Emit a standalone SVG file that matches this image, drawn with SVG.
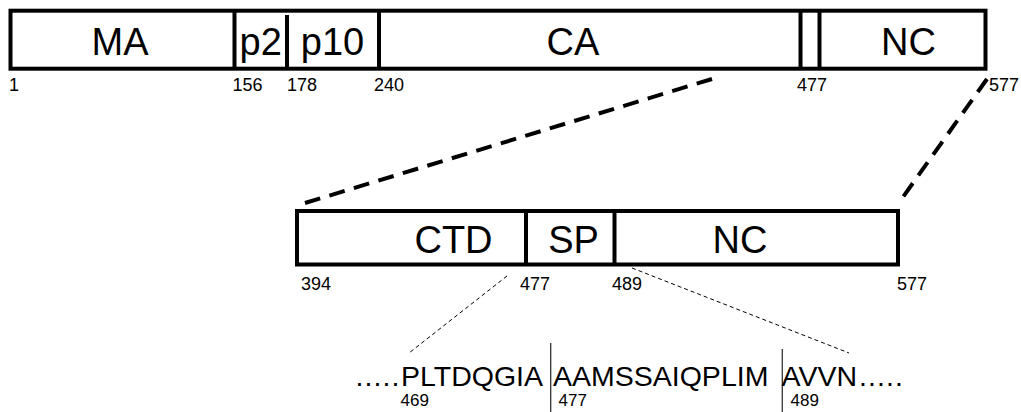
<svg xmlns="http://www.w3.org/2000/svg" width="1021" height="412" viewBox="0 0 1021 412">
<style>
.box{fill:#fff;stroke:#000;stroke-width:4}
.div{stroke:#000;stroke-width:4}
.big{font-family:"Liberation Sans",Arial,sans-serif;font-size:38px;fill:#000}
.num{font-family:"Liberation Sans",Arial,sans-serif;font-size:18px;fill:#000}
.sm{font-family:"Liberation Sans",Arial,sans-serif;font-size:17px;fill:#000}
.seq{font-family:"Liberation Sans",Arial,sans-serif;font-size:28.5px;fill:#000}
.thick{stroke:#000;stroke-width:4;stroke-dasharray:16 9.6;fill:none}
.thin{stroke:#000;stroke-width:1;stroke-dasharray:4 3;fill:none}
.vline{stroke:#333;stroke-width:1.3}
</style>
<g id="connectors">
<line class="thick" x1="712" y1="79" x2="305" y2="203"/>
<line class="thick" x1="987" y1="79" x2="903" y2="197"/>
<line class="thin" x1="507" y1="276" x2="409" y2="353"/>
<line class="thin" x1="632" y1="268" x2="849" y2="353"/>
</g>
<g id="gag-full">
<rect class="box" x="10.5" y="10.7" width="975" height="58"/>
<line class="div" x1="234.5" y1="10.7" x2="234.5" y2="68.7"/>
<line class="div" x1="287" y1="15" x2="287" y2="68.7"/>
<line class="div" x1="379" y1="10.7" x2="379" y2="68.7"/>
<line class="div" x1="800.5" y1="10.7" x2="800.5" y2="68.7"/>
<line class="div" x1="819.5" y1="10.7" x2="819.5" y2="68.7"/>
<text class="big" x="120" y="55" text-anchor="middle">MA</text>
<text class="big" x="239.5" y="55">p2</text>
<text class="big" x="332.5" y="55" text-anchor="middle">p10</text>
<text class="big" x="573" y="55" text-anchor="middle">CA</text>
<text class="big" x="908.5" y="55" text-anchor="middle">NC</text>
<text class="num" x="9" y="90.7">1</text>
<text class="num" x="232.5" y="90.7">156</text>
<text class="num" x="287" y="90.7">178</text>
<text class="num" x="374" y="90.7">240</text>
<text class="num" x="797" y="90.7">477</text>
<text class="num" x="989" y="90.7">577</text>
</g>
<g id="gag-detail">
<rect class="box" x="297" y="211" width="601" height="53.5"/>
<line class="div" x1="526" y1="211" x2="526" y2="264.5"/>
<line class="div" x1="614.5" y1="211" x2="614.5" y2="264.5"/>
<text class="big" x="453.5" y="252.5" text-anchor="middle">CTD</text>
<text class="big" x="573.5" y="252.5" text-anchor="middle">SP</text>
<text class="big" x="740" y="252.5" text-anchor="middle">NC</text>
<text class="num" x="301" y="290">394</text>
<text class="num" x="520" y="290">477</text>
<text class="num" x="612" y="290">489</text>
<text class="num" x="897" y="290">577</text>
</g>
<g id="sequence">
<line class="vline" x1="550.7" y1="343" x2="550.7" y2="412"/>
<line class="vline" x1="782.3" y1="349" x2="782.3" y2="412"/>
<text class="seq" x="355.5" y="386" textLength="44" lengthAdjust="spacing">.....</text>
<text class="seq" x="401" y="386">PLTDQGIA</text>
<text class="seq" x="553" y="386">AAMSSAIQPLIM</text>
<text class="seq" x="781.5" y="386">AVVN</text>
<text class="seq" x="859" y="386" textLength="44" lengthAdjust="spacing">.....</text>
<text class="sm" x="400.5" y="405.5">469</text>
<text class="sm" x="558.5" y="405.5">477</text>
<text class="sm" x="790.5" y="405.5">489</text>
</g>
</svg>
